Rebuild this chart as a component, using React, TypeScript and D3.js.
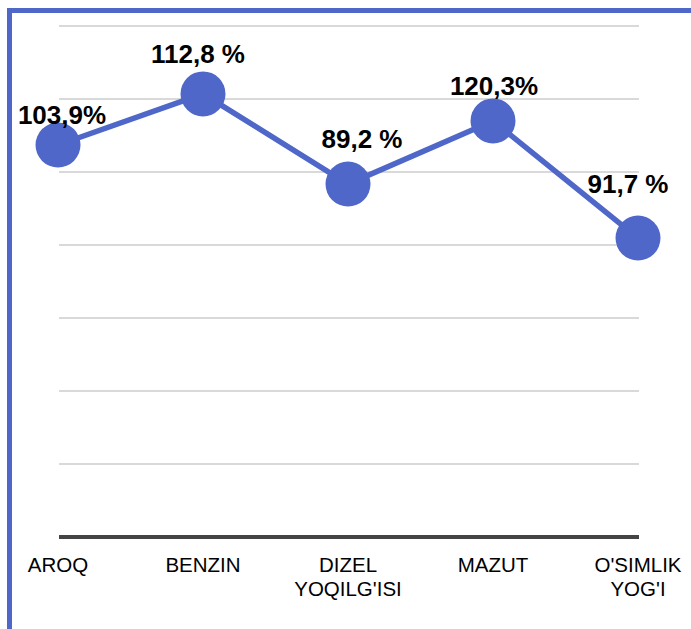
import React from "react";
import * as d3 from "d3";

const categories: string[][] = [["AROQ"], ["BENZIN"], ["DIZEL", "YOQILG'ISI"], ["MAZUT"], ["O'SIMLIK", "YOG'I"]];
// values as plotted (read from point positions)
const plotted: number[] = [107.4, 121.4, 96.7, 114.0, 81.9];
// value labels as printed on the chart
const valueLabels: string[] = ["103,9%", "112,8 %", "89,2 %", "120,3%", "91,7 %"];
const yTicks: number[] = [0, 20, 40, 60, 80, 100, 120, 140];

const labelOffsets: [number, number][] = [[4, -21], [-5, -31], [14, -36], [1, -26], [-10, -45]];

const W = 691;
const H = 629;
const BLUE = "#4f67c8";

export default function App() {
  const x = d3.scalePoint<number>().domain(d3.range(categories.length)).range([58, 638]);
  const y = d3.scaleLinear().domain([0, 140]).range([537, 26]);
  const line = d3.line<number>().x((_, i) => x(i) as number).y((d) => y(d));
  const font = "Liberation Sans, Arial, sans-serif";
  return (
    <svg width={W} height={H} style={{ position: "absolute", left: 0, top: 0, background: "#fff" }}>
      {/* frame */}
      <line x1={9.5} x2={9.5} y1={8} y2={H} stroke={BLUE} strokeWidth={5} />
      <line x1={7} x2={W} y1={10.5} y2={10.5} stroke={BLUE} strokeWidth={5} />
      {/* gridlines */}
      {yTicks.slice(1).map((t) => (
        <line key={t} x1={59} x2={639} y1={y(t)} y2={y(t)} stroke="#d9d9d9" strokeWidth={2} />
      ))}
      {/* axis */}
      <line x1={59} x2={639} y1={y(0)} y2={y(0)} stroke="#444" strokeWidth={4} />
      {/* category labels */}
      {categories.map((lines, i) => (
        <text key={i} x={x(i)} y={572} textAnchor="middle" fontFamily={font} fontSize={20.5} fill="#000">
          {lines.map((l, j) => (
            <tspan key={j} x={x(i)} dy={j === 0 ? 0 : 24}>{l}</tspan>
          ))}
        </text>
      ))}
      {/* line */}
      <path d={line(plotted) || ""} fill="none" stroke={BLUE} strokeWidth={5.5} />
      {plotted.map((v, i) => (
        <circle key={i} cx={x(i)} cy={y(v)} r={22.5} fill={BLUE} />
      ))}
      {plotted.map((v, i) => (
        <text
          key={i}
          x={(x(i) as number) + labelOffsets[i][0]}
          y={y(v) + labelOffsets[i][1]}
          textAnchor="middle"
          fontFamily={font}
          fontWeight="bold"
          fontSize={26}
          fill="#000"
        >
          {valueLabels[i]}
        </text>
      ))}
    </svg>
  );
}
